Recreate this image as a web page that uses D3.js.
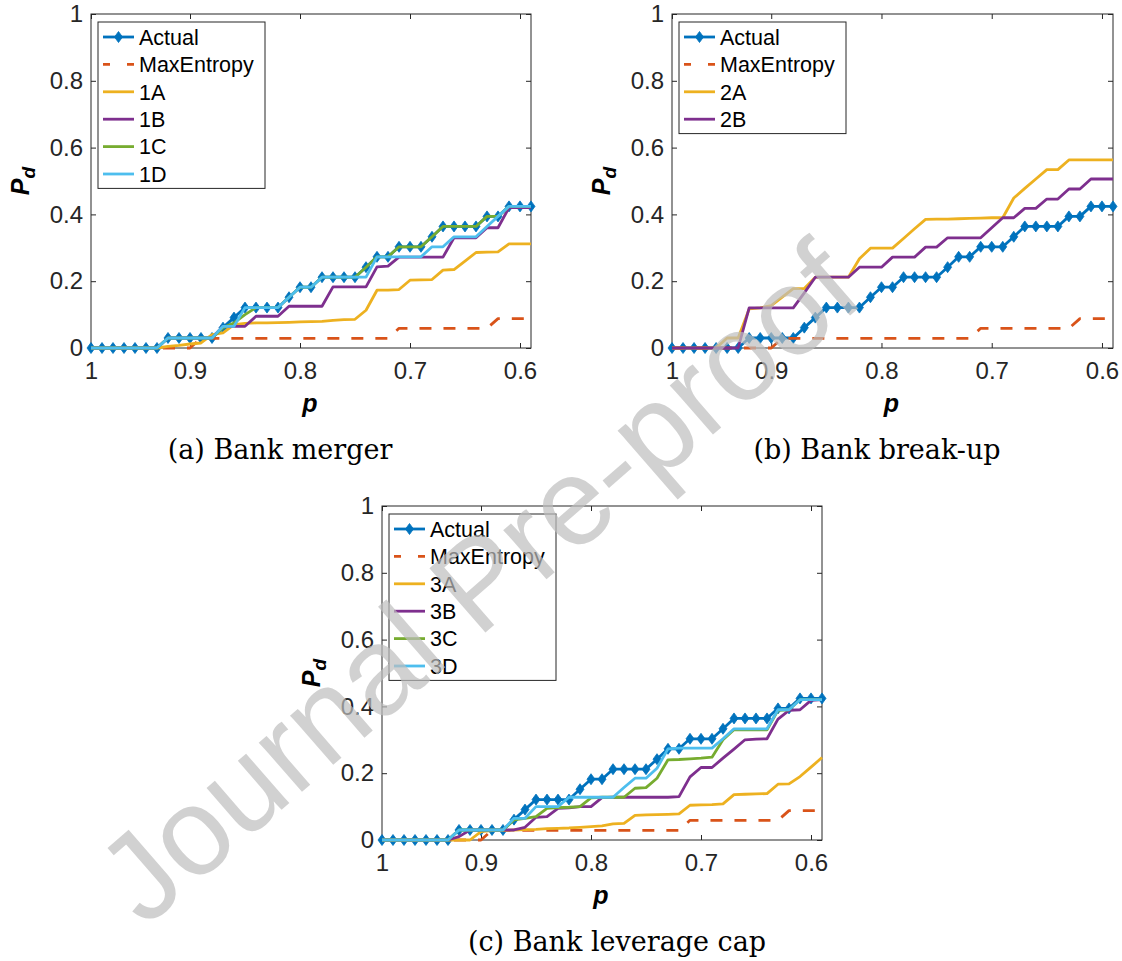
<!DOCTYPE html>
<html>
<head>
<meta charset="utf-8">
<script src="https://cdn.jsdelivr.net/npm/d3@7/dist/d3.min.js"></script>
<style>
  html, body { margin: 0; padding: 0; background: #ffffff; }
  svg { display: block; }
</style>
</head>
<body>
<svg id="fig" width="1122" height="961"></svg>
<script>
// Threshold values p along the horizontal axis (41 steps)
const pValues = [0.99, 0.98, 0.97, 0.96, 0.95, 0.94, 0.93, 0.92, 0.91, 0.90,
                 0.89, 0.88, 0.87, 0.86, 0.85, 0.84, 0.83, 0.82, 0.81, 0.80,
                 0.79, 0.78, 0.77, 0.76, 0.75, 0.74, 0.73, 0.72, 0.71, 0.70,
                 0.69, 0.68, 0.67, 0.66, 0.65, 0.64, 0.63, 0.62, 0.61, 0.60, 0.59];

const xTickValues = [0.99, 0.9, 0.8, 0.7, 0.6];
const xTickLabels = ["1", "0.9", "0.8", "0.7", "0.6"];
const yTickValues = [0, 0.2, 0.4, 0.6, 0.8, 1];
const yTickLabels = ["0", "0.2", "0.4", "0.6", "0.8", "1"];

// Observed default probability
const actual = [0, 0, 0, 0, 0, 0, 0, 0.030, 0.030, 0.030,
                0.030, 0.030, 0.061, 0.091, 0.121, 0.121, 0.121, 0.121, 0.152, 0.182,
                0.182, 0.212, 0.212, 0.212, 0.212, 0.242, 0.273, 0.273, 0.303, 0.303,
                0.303, 0.333, 0.364, 0.364, 0.364, 0.364, 0.394, 0.394, 0.424, 0.424, 0.424];

// Maximum-entropy reconstruction
const maxEntropy = [0, 0, 0, 0, 0, 0, 0, 0, 0, 0,
                    0.029, 0.029, 0.029, 0.029, 0.029, 0.029, 0.029, 0.029, 0.029, 0.029,
                    0.029, 0.029, 0.029, 0.029, 0.029, 0.029, 0.029, 0.029, 0.059, 0.059,
                    0.059, 0.059, 0.059, 0.059, 0.059, 0.059, 0.059, 0.088, 0.088, 0.088, 0.088];

// (a) Bank merger scenarios
const s1A = [0, 0, 0, 0, 0, 0, 0, 0.005, 0.008, 0.012,
             0.015, 0.040, 0.045, 0.070, 0.074, 0.075, 0.075, 0.076, 0.077, 0.078,
             0.079, 0.080, 0.083, 0.085, 0.086, 0.113, 0.173, 0.173, 0.175, 0.203,
             0.204, 0.205, 0.233, 0.235, 0.260, 0.286, 0.287, 0.288, 0.312, 0.312, 0.312];
const s1B = [0, 0, 0, 0, 0, 0, 0, 0.030, 0.030, 0.030,
             0.030, 0.030, 0.065, 0.065, 0.065, 0.095, 0.095, 0.095, 0.125, 0.125,
             0.125, 0.125, 0.183, 0.183, 0.183, 0.183, 0.243, 0.245, 0.272, 0.272,
             0.272, 0.272, 0.272, 0.330, 0.330, 0.330, 0.360, 0.360, 0.420, 0.420, 0.420];
const s1C = [0, 0, 0, 0, 0, 0, 0, 0.030, 0.030, 0.030,
             0.030, 0.030, 0.061, 0.075, 0.100, 0.121, 0.121, 0.121, 0.152, 0.182,
             0.182, 0.212, 0.212, 0.212, 0.212, 0.242, 0.273, 0.273, 0.303, 0.303,
             0.303, 0.333, 0.364, 0.364, 0.364, 0.364, 0.394, 0.394, 0.424, 0.424, 0.424];
const s1D = [0, 0, 0, 0, 0, 0, 0, 0.030, 0.030, 0.030,
             0.030, 0.030, 0.065, 0.065, 0.121, 0.121, 0.121, 0.121, 0.152, 0.182,
             0.182, 0.212, 0.212, 0.212, 0.212, 0.212, 0.273, 0.273, 0.273, 0.273,
             0.273, 0.303, 0.303, 0.333, 0.333, 0.333, 0.364, 0.394, 0.424, 0.424, 0.424];

// (b) Bank break-up scenarios
const s2A = [0, 0, 0, 0, 0, 0.030, 0.030, 0.117, 0.120, 0.127,
             0.152, 0.178, 0.178, 0.212, 0.212, 0.212, 0.212, 0.267, 0.299, 0.299,
             0.299, 0.328, 0.357, 0.385, 0.386, 0.386, 0.387, 0.388, 0.389, 0.390,
             0.390, 0.449, 0.478, 0.506, 0.534, 0.534, 0.563, 0.563, 0.563, 0.563, 0.563];
const s2B = [0, 0, 0, 0, 0, 0, 0, 0.120, 0.120, 0.120,
             0.120, 0.120, 0.165, 0.212, 0.212, 0.212, 0.212, 0.242, 0.242, 0.242,
             0.272, 0.272, 0.272, 0.302, 0.302, 0.330, 0.330, 0.330, 0.330, 0.360,
             0.390, 0.390, 0.418, 0.418, 0.446, 0.446, 0.476, 0.476, 0.506, 0.506, 0.506];

// (c) Bank leverage cap scenarios
const s3A = [0, 0, 0, 0, 0, 0, 0, 0, 0, 0.025,
             0.028, 0.028, 0.030, 0.031, 0.032, 0.034, 0.035, 0.036, 0.038, 0.040,
             0.042, 0.048, 0.050, 0.074, 0.075, 0.076, 0.077, 0.078, 0.104, 0.105,
             0.106, 0.108, 0.136, 0.137, 0.138, 0.139, 0.167, 0.168, 0.190, 0.218, 0.247];
const s3B = [0, 0, 0, 0, 0, 0, 0, 0.010, 0.030, 0.030,
             0.030, 0.030, 0.030, 0.038, 0.068, 0.070, 0.095, 0.096, 0.100, 0.100,
             0.127, 0.128, 0.128, 0.128, 0.128, 0.128, 0.128, 0.130, 0.189, 0.217,
             0.217, 0.245, 0.272, 0.300, 0.302, 0.303, 0.362, 0.388, 0.390, 0.418, 0.420];
const s3C = [0, 0, 0, 0, 0, 0, 0, 0.030, 0.030, 0.030,
             0.030, 0.030, 0.060, 0.065, 0.070, 0.095, 0.097, 0.098, 0.100, 0.126,
             0.128, 0.128, 0.128, 0.155, 0.157, 0.185, 0.240, 0.241, 0.243, 0.245,
             0.248, 0.300, 0.330, 0.330, 0.330, 0.330, 0.388, 0.390, 0.420, 0.420, 0.420];
const s3D = [0, 0, 0, 0, 0, 0, 0, 0.030, 0.030, 0.030,
             0.030, 0.030, 0.065, 0.065, 0.100, 0.100, 0.100, 0.128, 0.128, 0.128,
             0.128, 0.128, 0.157, 0.185, 0.185, 0.215, 0.273, 0.275, 0.275, 0.275,
             0.275, 0.303, 0.333, 0.333, 0.333, 0.333, 0.390, 0.390, 0.420, 0.420, 0.420];

const C = {
  blue: "#0072BD", orange: "#D95319", yellow: "#EDB120",
  purple: "#7E2F8E", green: "#77AC30", cyan: "#4DBEEE"
};
const axisColor = "#262626";
const sans = "'Liberation Sans', Arial, Helvetica, sans-serif";
const serif = "'DejaVu Serif', 'Liberation Serif', serif";

const panels = [
  {
    left: 91, top: 14, width: 440, height: 334,
    caption: "(a) Bank merger", captionX: 280, captionY: 459,
    series: [
      { name: "Actual", values: actual, color: C.blue, marker: true },
      { name: "MaxEntropy", values: maxEntropy, color: C.orange, dashed: true },
      { name: "1A", values: s1A, color: C.yellow },
      { name: "1B", values: s1B, color: C.purple },
      { name: "1C", values: s1C, color: C.green },
      { name: "1D", values: s1D, color: C.cyan }
    ]
  },
  {
    left: 672, top: 14, width: 441, height: 334,
    caption: "(b) Bank break-up", captionX: 877, captionY: 459,
    series: [
      { name: "Actual", values: actual, color: C.blue, marker: true },
      { name: "MaxEntropy", values: maxEntropy, color: C.orange, dashed: true },
      { name: "2A", values: s2A, color: C.yellow },
      { name: "2B", values: s2B, color: C.purple }
    ]
  },
  {
    left: 382, top: 506, width: 440, height: 334,
    caption: "(c) Bank leverage cap", captionX: 617, captionY: 951,
    series: [
      { name: "Actual", values: actual, color: C.blue, marker: true },
      { name: "MaxEntropy", values: maxEntropy, color: C.orange, dashed: true },
      { name: "3A", values: s3A, color: C.yellow },
      { name: "3B", values: s3B, color: C.purple },
      { name: "3C", values: s3C, color: C.green },
      { name: "3D", values: s3D, color: C.cyan }
    ]
  }
];

const svg = d3.select("#fig");
svg.append("rect").attr("width", 1122).attr("height", 961).attr("fill", "#ffffff");

const diamond = (s, cx, cy) => {
  const w = 4, h = 5.5;
  s.attr("d", `M${cx},${cy - h}L${cx + w},${cy}L${cx},${cy + h}L${cx - w},${cy}Z`);
};

panels.forEach(P => {
  const g = svg.append("g").attr("transform", `translate(${P.left},${P.top})`);
  const x = d3.scaleLinear().domain([0.99, 0.59]).range([0, P.width]);
  const y = d3.scaleLinear().domain([0, 1]).range([P.height, 0]);

  const styleAxis = sel => {
    sel.select(".domain").remove();
    sel.selectAll(".tick line").attr("stroke", axisColor).attr("stroke-width", 1);
    sel.selectAll(".tick text").attr("fill", axisColor)
      .style("font-family", sans).style("font-size", "24px");
  };

  // bottom / left axes with labels, top / right with ticks only
  g.append("g").attr("transform", `translate(0,${P.height})`)
    .call(d3.axisBottom(x).tickValues(xTickValues)
      .tickFormat((d, i) => xTickLabels[i]).tickSizeInner(-5).tickSizeOuter(0).tickPadding(14))
    .call(styleAxis);
  g.append("g")
    .call(d3.axisTop(x).tickValues(xTickValues).tickFormat("")
      .tickSizeInner(-5).tickSizeOuter(0))
    .call(styleAxis);
  g.append("g")
    .call(d3.axisLeft(y).tickValues(yTickValues)
      .tickFormat((d, i) => yTickLabels[i]).tickSizeInner(-5).tickSizeOuter(0).tickPadding(8))
    .call(styleAxis);
  g.append("g").attr("transform", `translate(${P.width},0)`)
    .call(d3.axisRight(y).tickValues(yTickValues).tickFormat("")
      .tickSizeInner(-5).tickSizeOuter(0))
    .call(styleAxis);

  g.append("rect").attr("x", 0).attr("y", 0)
    .attr("width", P.width).attr("height", P.height)
    .attr("fill", "none").attr("stroke", axisColor).attr("stroke-width", 1);

  // data lines
  const line = d3.line().x((d, i) => x(pValues[i])).y(d => y(d));
  P.series.forEach(s => {
    g.append("path").datum(s.values)
      .attr("d", line)
      .attr("fill", "none")
      .attr("stroke", s.color)
      .attr("stroke-width", 2.8)
      .attr("stroke-linejoin", "round")
      .attr("stroke-dasharray", s.dashed ? "12,12" : null);
    if (s.marker) {
      g.append("g").selectAll("path").data(s.values).join("path")
        .each(function (d, i) { diamond(d3.select(this), x(pValues[i]), y(d)); })
        .attr("fill", s.color).attr("stroke", s.color).attr("stroke-width", 0.8);
    }
  });

  // legend
  const lx = 7, ly = 8, rowH = 27.4, lw = 167;
  const lh = rowH * P.series.length + 2;
  const lg = g.append("g").attr("transform", `translate(${lx},${ly})`);
  lg.append("rect").attr("width", lw).attr("height", lh)
    .attr("fill", "#ffffff").attr("stroke", axisColor).attr("stroke-width", 1);
  P.series.forEach((s, i) => {
    const cy = 15 + i * rowH;
    lg.append("line").attr("x1", 5).attr("x2", 36).attr("y1", cy).attr("y2", cy)
      .attr("stroke", s.color).attr("stroke-width", 2.8)
      .attr("stroke-dasharray", s.dashed ? "7,17" : null);
    if (s.marker) {
      lg.append("path").call(sel => diamond(sel, 20.5, cy))
        .attr("fill", s.color).attr("stroke", s.color).attr("stroke-width", 0.8);
    }
    lg.append("text").attr("x", 41).attr("y", cy).attr("dy", "0.36em")
      .attr("fill", "#000000")
      .style("font-family", sans).style("font-size", "21.5px")
      .text(s.name);
  });

  // axis titles
  g.append("text")
    .attr("transform", `translate(${-62},${P.height * 0.5}) rotate(-90)`)
    .attr("text-anchor", "middle")
    .style("font-family", sans).style("font-weight", "bold").style("font-style", "italic")
    .attr("fill", "#000000")
    .call(t => {
      t.append("tspan").style("font-size", "25px").text("P");
      t.append("tspan").style("font-size", "19px").attr("dy", 6).text("d");
    });
  g.append("text")
    .attr("x", P.width * 0.5 - 1).attr("y", P.height + 64)
    .attr("text-anchor", "middle")
    .style("font-family", sans).style("font-weight", "bold").style("font-style", "italic")
    .style("font-size", "25px").attr("fill", "#000000")
    .text("p");

  // sub-figure caption
  svg.append("text")
    .attr("x", P.captionX).attr("y", P.captionY)
    .attr("text-anchor", "middle")
    .style("font-family", serif).style("font-size", "27px")
    .attr("fill", "#000000")
    .text(P.caption);
});

// pre-proof watermark across the page
svg.append("text")
  .attr("transform", "translate(478,582) rotate(-41)")
  .attr("text-anchor", "middle")
  .attr("dominant-baseline", "central")
  .style("font-family", sans).style("font-size", "124px")
  .attr("fill", "#bdbdbd").attr("fill-opacity", 0.7)
  .text("Journal Pre-proof");
</script>
</body>
</html>
